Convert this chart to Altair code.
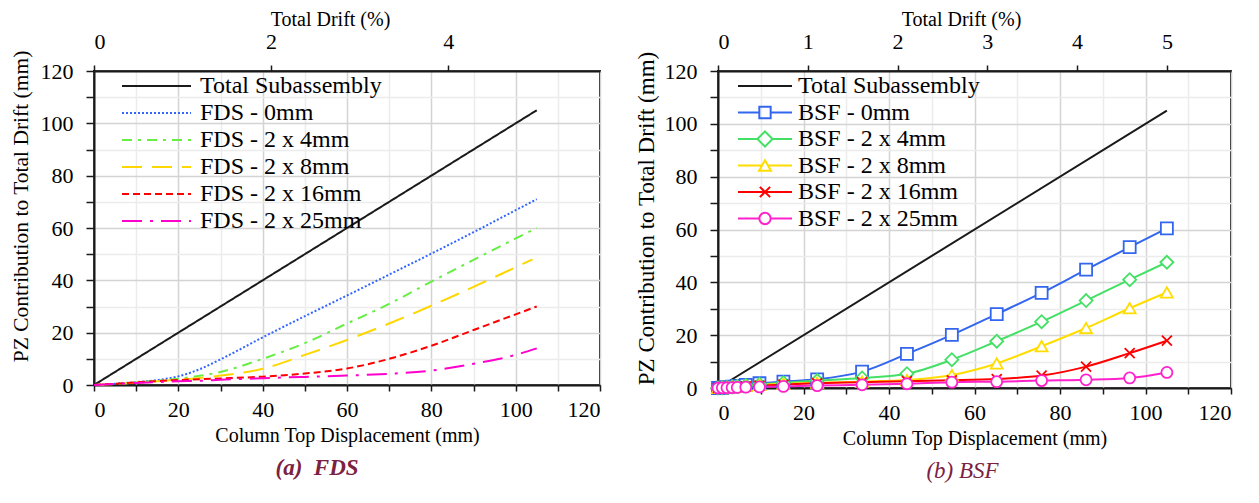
import altair as alt
import pandas as pd

FONT = "Liberation Serif"

# ---------------- data ----------------
TOTAL_X = [0, 105]
TOTAL_Y = [0, 105]
MM_PER_DRIFT_PCT = 21

FDS_NAMES = ["Total Subassembly", "FDS - 0mm", "FDS - 2 x 4mm", "FDS - 2 x 8mm",
             "FDS - 2 x 16mm", "FDS - 2 x 25mm"]
FDS_X = [0, 5, 10, 15, 20, 25, 30, 40, 50, 60, 70, 80, 90, 100, 105]
FDS_X_8 = [0, 5, 10, 15, 20, 25, 30, 40, 50, 60, 70, 80, 90, 100, 104]
FDS_0 = [0, 0.5, 1.1, 1.9, 3.3, 6.0, 9.8, 18.2, 26.3, 34.2, 42.2, 50.2, 58.4, 66.8, 71.0]
FDS_4 = [0, 0.4, 1.0, 1.6, 2.4, 3.5, 5.0, 10.0, 16.0, 23.5, 31.0, 39.5, 47.8, 56.0, 60.0]
FDS_8 = [0, 0.4, 0.9, 1.4, 2.0, 2.7, 3.6, 6.2, 11.5, 17.2, 23.5, 30.3, 37.5, 45.0, 48.0]
FDS_16 = [0, 0.5, 1.0, 1.5, 1.9, 2.2, 2.5, 3.2, 4.4, 6.3, 10.0, 15.0, 21.0, 27.0, 30.0]
FDS_25 = [0, 0.4, 0.8, 1.1, 1.4, 1.6, 2.0, 2.6, 3.1, 3.6, 4.3, 5.5, 8.1, 11.5, 14.0]

BSF_NAMES = ["Total Subassembly", "BSF - 0mm", "BSF - 2 x 4mm", "BSF - 2 x 8mm",
             "BSF - 2 x 16mm", "BSF - 2 x 25mm"]
BSF_X = [0, 1.0, 2.1, 3.3, 4.5, 6.5, 9.7, 15.3, 23.2, 33.7, 44.2, 54.7, 65.2, 75.7, 86.1, 96.3, 105.0]
BSF_0 = [0, 0.1, 0.3, 0.5, 0.8, 1.2, 1.8, 2.4, 3.3, 6.2, 12.9, 20.1, 28.0, 36.0, 44.8, 53.3, 60.4]
BSF_4 = [0, 0.1, 0.2, 0.4, 0.6, 0.9, 1.4, 2.0, 2.8, 3.8, 5.4, 10.7, 17.7, 25.1, 33.1, 41.0, 47.6]
BSF_8 = [0, 0.1, 0.2, 0.3, 0.5, 0.8, 1.2, 1.6, 2.0, 2.4, 3.0, 4.9, 9.3, 15.8, 22.7, 30.2, 36.2]
BSF_16 = [0, 0.1, 0.2, 0.3, 0.4, 0.6, 0.9, 1.3, 1.8, 2.2, 2.6, 2.9, 3.4, 4.7, 8.1, 13.2, 17.9]
BSF_25 = [0, 0.05, 0.1, 0.15, 0.2, 0.3, 0.4, 0.6, 0.9, 1.2, 1.6, 2.2, 2.4, 2.8, 3.1, 3.8, 5.9]

AXIS_TICKS = list(range(0, 121, 10))
TOP_TICKS_L = [0, 2, 4]
TOP_TICKS_R = [0, 1, 2, 3, 4, 5]

# ---------------- styles ----------------
FDS_COLORS = ["#1a1a1a", "#3366ff", "#66ee44", "#ffd700", "#ff0000", "#ff00cc"]
FDS_DASHES = [[1, 0], [2, 2], [10, 6, 3, 6], [20, 10], [7, 4], [20, 8, 3, 8]]
BSF_COLORS = ["#1a1a1a", "#3366ee", "#44e066", "#ffdd00", "#ff0000", "#ff22cc"]
X_PATH = "M-1,-1L1,1M-1,1L1,-1"
BSF_MARKERS = [("square", 144), ("diamond", 169), ("triangle-up", 144), (X_PATH, 100), ("circle", 121)]
BSF_LEGEND_PATHS = [
    "M-1,0H1",
    "M-1,0H-0.21M0.21,0H1M-0.21,-0.21H0.21V0.21H-0.21Z",
    "M-1,0H-0.28M0.28,0H1M-0.28,0L0,-0.28L0.28,0L0,0.28Z",
    "M-1,0H-0.11M0.11,0H1M0,-0.19L-0.22,0.19L0.22,0.19Z",
    "M-1,0H1M-0.19,-0.19L0.19,0.19M-0.19,0.19L0.19,-0.19",
    "M-1,0H-0.21M0.21,0H1M0.21,0A0.21,0.21,0,1,1,-0.21,0A0.21,0.21,0,1,1,0.21,0Z",
]
CAPTION_COLOR = "#7b2142"


def rows(name, xs, ys):
    return [{"series": name, "x": a, "y": b} for a, b in zip(xs, ys)]


df_l = pd.DataFrame(
    rows(FDS_NAMES[0], TOTAL_X, TOTAL_Y) + rows(FDS_NAMES[1], FDS_X, FDS_0)
    + rows(FDS_NAMES[2], FDS_X, FDS_4) + rows(FDS_NAMES[3], FDS_X_8, FDS_8)
    + rows(FDS_NAMES[4], FDS_X, FDS_16) + rows(FDS_NAMES[5], FDS_X, FDS_25)
)
df_r = pd.DataFrame(
    rows(BSF_NAMES[0], TOTAL_X, TOTAL_Y) + rows(BSF_NAMES[1], BSF_X, BSF_0)
    + rows(BSF_NAMES[2], BSF_X, BSF_4) + rows(BSF_NAMES[3], BSF_X, BSF_8)
    + rows(BSF_NAMES[4], BSF_X, BSF_16) + rows(BSF_NAMES[5], BSF_X, BSF_25)
)

GRID_COLOR = {"condition": {"test": "datum.value % 20 === 0", "value": "#d4d4d4"}, "value": "#ececec"}
MAJOR_ONLY = "datum.value % 20 === 0 ? datum.label : ''"


def x_scale():
    return alt.Scale(domain=[0, 120], nice=False, zero=True)


def y_scale():
    return alt.Scale(domain=[0, 120], nice=False, zero=True)


def x_axis():
    return alt.Axis(values=AXIS_TICKS, labelExpr=MAJOR_ONLY, labelOverlap=False,
                    title="Column Top Displacement (mm)", grid=True, gridColor=GRID_COLOR,
                    gridWidth=1.5, tickSize=6, labelPadding=8, titlePadding=5)


def y_axis(title_x, title_y, title_size):
    return alt.Axis(values=AXIS_TICKS, labelExpr=MAJOR_ONLY, labelOverlap=False,
                    title="PZ Contribution to Total Drift (mm)", grid=True, gridColor=GRID_COLOR,
                    gridWidth=1.5, tickSize=8, labelPadding=13,
                    titleX=title_x, titleY=title_y, titleAngle=270, titleAlign="center",
                    titleBaseline="middle", titleFontSize=title_size)


def X():
    return alt.X("x:Q", scale=x_scale(), axis=x_axis())


def make_Y(title_x, title_y, title_size):
    def Y():
        return alt.Y("y:Q", scale=y_scale(), axis=y_axis(title_x, title_y, title_size))
    return Y


def top_layer(df, ticks, Y, title_x):
    return alt.Chart(df[df.series == "Total Subassembly"]).transform_calculate(
        drift=f"datum.x / {MM_PER_DRIFT_PCT}"
    ).mark_line(opacity=0).encode(
        x=alt.X("drift:Q", scale=alt.Scale(domain=[0, 120 / MM_PER_DRIFT_PCT], nice=False, zero=True),
                axis=alt.Axis(orient="top", values=ticks, format="d", title="Total Drift (%)",
                              grid=False, tickSize=6, labelPadding=12,
                              titleX=title_x, titleY=-52, titleAlign="center",
                              titleBaseline="middle")),
        y=Y(),
    )


# ---------------- left panel (FDS) ----------------
Y_L = make_Y(-73, 135, 21.5)
LEG_L = dict(title=None, orient="none", legendX=27, legendY=3, symbolType="stroke",
             symbolSize=4761, symbolStrokeWidth=2, labelFont=FONT, labelFontSize=24,
             labelColor="black", labelLimit=400, labelOffset=8, clipHeight=24,
             rowPadding=3, padding=0)

lines_l = alt.Chart(df_l).mark_line(strokeWidth=2, interpolate="monotone").encode(
    x=X(), y=Y_L(),
    color=alt.Color("series:N", scale=alt.Scale(domain=FDS_NAMES, range=FDS_COLORS),
                    legend=alt.Legend(**LEG_L)),
    strokeDash=alt.StrokeDash("series:N", scale=alt.Scale(domain=FDS_NAMES, range=FDS_DASHES),
                              legend=alt.Legend(**LEG_L)),
)

left = alt.layer(lines_l, top_layer(df_l, TOP_TICKS_L, Y_L, 236)).resolve_scale(x="independent").properties(
    width=506, height=314,
    title=alt.TitleParams("(a)\u00a0 FDS", orient="bottom", anchor="middle", frame="group",
                          font=FONT, fontSize=23, fontStyle="italic", fontWeight="bold",
                          color=CAPTION_COLOR, dx=-30, offset=12),
)

# ---------------- right panel (BSF) ----------------
Y_R = make_Y(-72, 147, 23)
LEG_R = dict(title=None, orient="none", legendX=19, legendY=3, symbolSize=2916,
             symbolStrokeWidth=2, symbolFillColor="white", labelFont=FONT, labelFontSize=24,
             labelColor="black", labelLimit=400, labelOffset=5, clipHeight=24,
             rowPadding=2.5, padding=0)

right_layers = []
for name, col in zip(BSF_NAMES, BSF_COLORS):
    right_layers.append(
        alt.Chart(df_r[df_r.series == name]).mark_line(
            color=col, strokeWidth=2, interpolate="monotone"
        ).encode(x=X(), y=Y_R())
    )
for name, col, (shape, size) in zip(BSF_NAMES[1:], BSF_COLORS[1:], BSF_MARKERS):
    right_layers.append(
        alt.Chart(df_r[df_r.series == name]).mark_point(
            shape=shape, size=size, filled=False, fill="white", stroke=col,
            strokeWidth=1.8, opacity=1
        ).encode(x=X(), y=Y_R())
    )

legend_r = alt.Chart(df_r).transform_filter("datum.x < 0").mark_point(
    filled=False, strokeWidth=2, opacity=1
).encode(
    x=X(), y=Y_R(),
    color=alt.Color("series:N", scale=alt.Scale(domain=BSF_NAMES, range=BSF_COLORS),
                    legend=alt.Legend(**LEG_R)),
    shape=alt.Shape("series:N", scale=alt.Scale(domain=BSF_NAMES, range=BSF_LEGEND_PATHS),
                    legend=alt.Legend(**LEG_R)),
)
right_layers.append(legend_r)

inner_r = alt.layer(*right_layers)
right = alt.layer(inner_r, top_layer(df_r, TOP_TICKS_R, Y_R, 243)).resolve_scale(x="independent").properties(
    width=513, height=317,
    title=alt.TitleParams("(b) BSF", orient="bottom", anchor="middle", frame="group",
                          font=FONT, fontSize=23, fontStyle="italic", fontWeight="normal",
                          color=CAPTION_COLOR, dx=-12, offset=12),
)

chart = alt.hconcat(left, right, spacing=31).resolve_scale(
    color="independent", strokeDash="independent", shape="independent"
).resolve_legend(
    color="independent", strokeDash="independent", shape="independent"
).properties(
    padding={"left": 0, "top": 0, "right": 0, "bottom": 0}
).configure_axis(
    labelFont=FONT, labelFontSize=22, labelColor="black",
    titleFont=FONT, titleFontSize=20, titleFontWeight="normal", titleColor="black",
    domainColor="#1a1a1a", domainWidth=2, tickColor="#1a1a1a", tickWidth=1.5,
).configure_view(stroke="#1a1a1a", strokeWidth=2)

chart.save("out.html", embed_options={"renderer": "svg", "actions": False})
